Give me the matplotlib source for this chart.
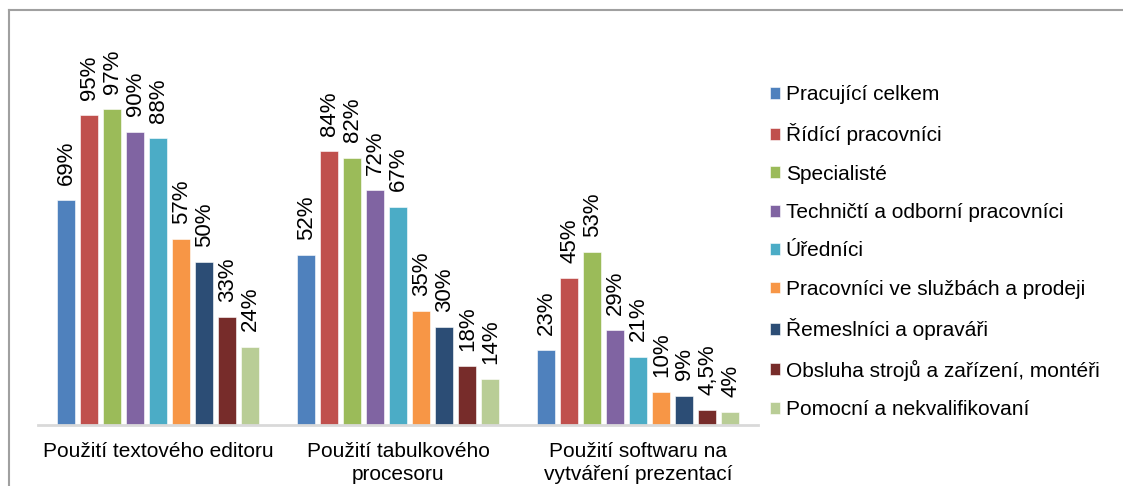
import numpy as np
import matplotlib.pyplot as plt
from matplotlib.lines import Line2D

plt.rcParams['font.family'] = ['Liberation Sans', 'DejaVu Sans']

categories = ['Použití textového editoru', 'Použití tabulkového\nprocesoru',
              'Použití softwaru na\nvytváření prezentací']
series = ['Pracující celkem', 'Řídící pracovníci', 'Specialisté',
          'Techničtí a odborní pracovníci', 'Úředníci',
          'Pracovníci ve službách a prodeji', 'Řemeslníci a opraváři',
          'Obsluha strojů a zařízení, montéři', 'Pomocní a nekvalifikovaní']
values = [
    [69, 52, 23],
    [95, 84, 45],
    [97, 82, 53],
    [90, 72, 29],
    [88, 67, 21],
    [57, 35, 10],
    [50, 30, 9],
    [33, 18, 4.5],
    [24, 14, 4],
]
colors = ['#4F81BD', '#C0504D', '#9BBB59', '#8064A2', '#4BACC6',
          '#F79646', '#2C4D75', '#772C2A', '#B9CD96']

fig = plt.figure(figsize=(11.23, 4.86), dpi=100)
ax = fig.add_axes([38 / 1123, 61 / 486, 720 / 1123, 405 / 486])

x = np.arange(len(categories))
w = 18 / 240
pitch = 23 / 240
for j, (name, vals) in enumerate(zip(series, values)):
    pos = x + (j - 4) * pitch
    bars = ax.bar(pos, vals, width=w, color=colors[j], label=name,
                  edgecolor='white', linewidth=0.4)
    for p, v in zip(pos, vals):
        txt = ('%g' % v).replace('.', ',') + '%'
        ax.annotate(txt, (p, v), xytext=(0.5, 11), textcoords='offset points',
                    rotation=90, ha='center', va='bottom', fontsize=16)

ax.set_xlim(-0.5, 2.5)
ax.set_ylim(0, 405 / 3.26)
ax.set_xticks(x)
ax.set_xticklabels(categories, fontsize=15, linespacing=1.3)
ax.tick_params(axis='x', length=0, pad=12)
ax.set_yticks([])
for s in ['top', 'right', 'left']:
    ax.spines[s].set_visible(False)
ax.spines['bottom'].set_color('#D9D9D9')
ax.spines['bottom'].set_linewidth(2)

ax.legend(loc='center left', bbox_to_anchor=(770 / 1123, 234 / 486),
          bbox_transform=fig.transFigure, frameon=False, fontsize=15,
          handlelength=0.5, handleheight=0.5, handletextpad=0.25,
          labelspacing=0.93, borderaxespad=0, borderpad=0)

# chart border
fig.add_artist(Line2D([8.5 / 1123, 8.5 / 1123], [0, 476 / 486],
                      transform=fig.transFigure, color='#A0A0A0', lw=1.5))
fig.add_artist(Line2D([8.5 / 1123, 1], [476 / 486, 476 / 486],
                      transform=fig.transFigure, color='#A0A0A0', lw=1.5))

fig.savefig('out.png', dpi=100)
